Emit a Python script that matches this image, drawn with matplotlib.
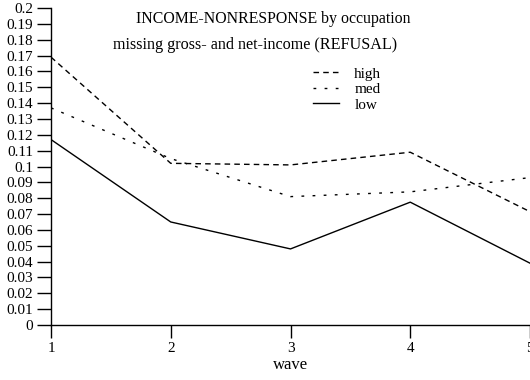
import matplotlib
matplotlib.use("Agg")
import matplotlib.pyplot as plt
import numpy as np

waves = [1, 2, 3, 4, 5]
high = [0.169, 0.102, 0.101, 0.109, 0.0715]
med = [0.137, 0.105, 0.081, 0.084, 0.093]
low = [0.117, 0.065, 0.048, 0.0775, 0.039]
yticks = [round(i * 0.01, 2) for i in range(21)]

plt.rcParams['font.family'] = ['Liberation Serif', 'DejaVu Serif']

fig = plt.figure(figsize=(5.3, 3.8), dpi=100)
ax = fig.add_axes([51/530, 55/380, (530-51)/530, (325-8)/380])

ax.plot(waves, high, color='black', lw=1.0, linestyle=(0, (4, 3)), label='high')
ax.plot(waves, med, color='black', lw=1.0, linestyle=(0, (2, 6)), label='med')
ax.plot(waves, low, color='black', lw=1.0, linestyle='-', label='low')

ax.set_xlim(1, 5)
ax.set_ylim(0, 0.2)
ax.set_xticks(waves)
ax.set_xticklabels([str(w) for w in waves])
ax.set_yticks(yticks)
ax.set_yticklabels(['%g' % t for t in yticks])
ax.tick_params(axis='both', direction='out', labelsize=11, colors='black', width=1)
ax.tick_params(axis='y', length=10, pad=3)
ax.tick_params(axis='x', length=9, pad=3)
for s in ['top', 'right']:
    ax.spines[s].set_visible(False)
for s in ['left', 'bottom']:
    ax.spines[s].set_linewidth(1)
ax.set_xlabel('wave', fontsize=12, labelpad=2)

fig.text(273/530, 1 - 19/380, 'INCOME-NONRESPONSE by occupation', ha='center', va='center', fontsize=11.4)
fig.text(255/530, 1 - 45/380, 'missing gross- and net-income (REFUSAL)', ha='center', va='center', fontsize=11.6)

leg = ax.legend(loc='upper left', bbox_to_anchor=((313-51)/479, (325-67)/317), frameon=False,
                fontsize=11, handlelength=1.7, handletextpad=1.0, labelspacing=0.12,
                borderaxespad=0, borderpad=0)

fig.savefig('out.png', dpi=100)
